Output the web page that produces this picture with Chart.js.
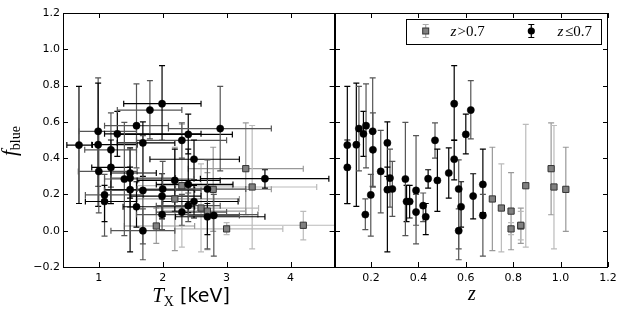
<!DOCTYPE html>
<html><head><meta charset="utf-8">
<script src="https://cdn.jsdelivr.net/npm/chart.js@4"></script>
<style>
html,body{margin:0;padding:0;background:#fff;}
#wrap{position:relative;width:630px;height:315px;background:#fff;}
canvas{position:absolute;top:0;}
</style></head><body>
<div id="wrap">
<canvas id="c1" width="340" height="315" style="left:0px"></canvas>
<canvas id="c2" width="330" height="315" style="left:300px"></canvas>
</div>
<script>
// ---- z <= 0.7 (black circles) ----
const lowT   = [0.69,0.99,0.99,1.19,1.29,1.59,1.69,1.80,1.99,2.30,2.40,2.90,2.49,1.00,1.19,1.09,1.09,1.40,1.49,1.49,1.49,1.69,1.59,1.69,1.99,1.99,2.19,2.30,2.40,2.40,2.49,2.70,2.70,2.80,3.60,2.00];
const lowTlo = [0.50,0.69,0.89,0.78,1.09,1.09,1.29,1.29,1.39,1.59,1.30,2.09,1.80,0.68,0.89,0.79,0.79,1.09,1.19,1.19,1.09,1.09,1.38,1.19,1.50,1.59,1.60,1.90,1.90,1.90,2.00,2.20,2.20,2.40,2.59,1.60];
const lowThi = [0.90,1.59,1.60,1.59,2.60,2.09,2.19,2.30,2.60,3.00,3.09,3.70,3.20,1.60,1.49,1.70,1.59,2.49,1.90,2.20,2.50,2.60,2.50,2.19,2.60,3.49,2.90,3.00,3.10,2.90,3.18,3.30,3.60,3.20,4.60,2.70];
const lowZ   = [0.100,0.207,0.138,0.208,0.168,0.179,0.269,0.621,0.551,0.470,0.600,0.149,0.551,0.241,0.100,0.199,0.350,0.345,0.528,0.280,0.269,0.390,0.580,0.570,0.631,0.176,0.480,0.390,0.672,0.420,0.363,0.570,0.431,0.672,0.441,0.290];
const lowF   = [0.472,0.548,0.474,0.446,0.534,0.579,0.484,0.665,0.700,0.498,0.531,0.563,0.394,0.327,0.349,0.197,0.161,0.285,0.318,0.290,0.226,0.222,0.132,0.000,0.191,0.089,0.277,0.103,0.255,0.138,0.161,0.230,0.077,0.084,0.287,0.230];
const lowFlo = [0.150,0.244,0.134,0.240,0.410,0.346,0.300,0.506,0.498,0.400,0.423,0.330,0.280,0.098,0.149,-0.030,0.050,-0.027,0.180,0.130,-0.117,-0.073,0.020,-0.160,0.065,0.006,0.107,0.030,0.100,0.050,0.070,-0.100,-0.022,-0.140,0.235,0.079];
const lowFhi = [0.796,0.842,0.814,0.649,0.658,0.809,0.600,0.827,0.910,0.594,0.643,0.796,0.500,0.553,0.500,0.310,0.250,0.597,0.457,0.450,0.350,0.524,0.270,0.120,0.314,0.175,0.450,0.200,0.450,0.208,0.250,0.390,0.150,0.200,0.336,0.382];
// ---- z > 0.7 (grey squares) ----
const highT   = [2.19,2.60,2.70,3.00,1.90,2.30,3.30,3.40,2.79,4.20];
const highTlo = [1.60,1.90,2.00,2.19,1.40,1.60,2.40,2.48,2.00,3.00];
const highThi = [3.20,3.50,3.30,3.88,2.50,3.09,4.20,4.41,3.70,5.20];
const highZ   = [0.712,0.750,0.791,0.791,0.832,0.853,0.960,0.972,1.022,0.832];
const highF   = [0.175,0.125,0.108,0.010,0.026,0.248,0.342,0.241,0.228,0.030];
const highFlo = [-0.110,-0.117,-0.105,-0.022,-0.070,-0.090,0.088,-0.100,-0.004,-0.050];
const highFhi = [0.460,0.368,0.320,0.045,0.125,0.586,0.594,0.580,0.460,0.107];
// ---- axes ----
const fTicks = [-0.2,0.0,0.2,0.4,0.6,0.8,1.0,1.2];
const tTicks = [1,2,3,4];
const zTicks = [0.2,0.4,0.6,0.8,1.0,1.2];
const fRange = [-0.2,1.2];
const tRange = [0.44,4.69];
const zRange = [0.048,1.2];

const TICKFONT = {family:'"DejaVu Sans"', size:11};
const lowErrCol  = ['#000','#555'];
const highErrCol = ['#999','#bbb'];

function mkPoints(xs, ys, ylo, yhi, xlo, xhi){
  return xs.map((v,i)=>({x:v, y:ys[i], ylo:ylo[i], yhi:yhi[i], xlo:xlo?xlo[i]:undefined, xhi:xhi?xhi[i]:undefined}));
}

const errPlugin = {
  id:'errbars',
  beforeDatasetsDraw(chart){
    const {ctx, chartArea:a} = chart;
    const xs = chart.scales.x, ys = chart.scales.y;
    ctx.save();
    ctx.beginPath(); ctx.rect(a.left, a.top, a.right-a.left, a.bottom-a.top); ctx.clip();
    ctx.lineWidth = 1.2;
    const order = [1,0];
    order.forEach(di=>{
      const ds = chart.data.datasets[di];
      ds.data.forEach((p,i)=>{
        ctx.strokeStyle = ds.errColors[i % ds.errColors.length];
        const px = xs.getPixelForValue(p.x), py = ys.getPixelForValue(p.y);
        const y1 = ys.getPixelForValue(p.ylo), y2 = ys.getPixelForValue(p.yhi);
        ctx.beginPath();
        ctx.moveTo(px, y1); ctx.lineTo(px, y2);
        ctx.moveTo(px-3, y1); ctx.lineTo(px+3, y1);
        ctx.moveTo(px-3, y2); ctx.lineTo(px+3, y2);
        if (p.xlo !== undefined){
          const x1 = xs.getPixelForValue(p.xlo), x2 = xs.getPixelForValue(p.xhi);
          ctx.moveTo(x1, py); ctx.lineTo(x2, py);
          ctx.moveTo(x1, py-3); ctx.lineTo(x1, py+3);
          ctx.moveTo(x2, py-3); ctx.lineTo(x2, py+3);
        }
        ctx.stroke();
      });
    });
    ctx.restore();
  }
};

function drawParts(ctx, parts, cx, cy){
  let w = 0;
  parts.forEach(p=>{ ctx.font = p.font; p.w = ctx.measureText(p.t).width; w += p.w; });
  let x = cx - w/2;
  parts.forEach(p=>{ ctx.font = p.font; ctx.fillText(p.t, x, cy + (p.dy||0)); x += p.w; });
}

const framePlugin = {
  id:'frame',
  afterDraw(chart, args, opts){
    const {ctx, chartArea:a} = chart;
    const xs = chart.scales.x, ys = chart.scales.y;
    ctx.save();
    ctx.strokeStyle = '#000'; ctx.lineWidth = 1;
    ctx.strokeRect(Math.round(a.left)+0.5, Math.round(a.top)+0.5, Math.round(a.right-a.left)-1, Math.round(a.bottom-a.top));
    ctx.beginPath();
    const L = 5;
    opts.xt.forEach(v=>{
      const px = Math.round(xs.getPixelForValue(v))+0.5;
      ctx.moveTo(px, a.bottom); ctx.lineTo(px, a.bottom-L);
      ctx.moveTo(px, a.top); ctx.lineTo(px, a.top+L);
    });
    fTicks.forEach(v=>{
      const py = Math.round(ys.getPixelForValue(v))+0.5;
      ctx.moveTo(a.left, py); ctx.lineTo(a.left+L, py);
      ctx.moveTo(a.right, py); ctx.lineTo(a.right-L, py);
    });
    ctx.stroke();
    ctx.fillStyle = '#000';
    ctx.textBaseline = 'alphabetic';
    if (opts.which === 'left'){
      drawParts(ctx, [
        {t:'T', font:'italic 21px "Liberation Serif"'},
        {t:'X', font:'14px "Liberation Serif"', dy:4},
        {t:' [keV]', font:'19px "DejaVu Sans"'}
      ], 191, 302);
      ctx.save();
      ctx.translate(16, 141);
      ctx.rotate(-Math.PI/2);
      drawParts(ctx, [
        {t:'f', font:'italic 21px "Liberation Serif"'},
        {t:'blue', font:'14px "Liberation Serif"', dy:4}
      ], 0, 0);
      ctx.restore();
    } else {
      drawParts(ctx, [{t:'z', font:'italic 20px "Liberation Serif"'}], 472-300, 300);
      // legend
      const ox = -300;
      ctx.lineWidth = 1;
      ctx.strokeStyle = '#000';
      ctx.strokeRect(406.5+ox, 19.5, 195, 25);
      // grey symbol
      let sx = 425.7+ox, sy = 31;
      ctx.strokeStyle = '#aaa'; ctx.lineWidth = 1.2;
      ctx.beginPath();
      ctx.moveTo(sx, 24.5); ctx.lineTo(sx, 37.5);
      ctx.moveTo(sx-3, 24.5); ctx.lineTo(sx+3, 24.5);
      ctx.moveTo(sx-3, 37.5); ctx.lineTo(sx+3, 37.5);
      ctx.stroke();
      ctx.fillStyle = '#808080'; ctx.strokeStyle = '#333'; ctx.lineWidth = 1;
      ctx.fillRect(sx-3, sy-3, 6, 6); ctx.strokeRect(sx-3, sy-3, 6, 6);
      // black symbol
      sx = 531.3+ox;
      ctx.strokeStyle = '#000'; ctx.lineWidth = 1.2;
      ctx.beginPath();
      ctx.moveTo(sx, 24.5); ctx.lineTo(sx, 37.5);
      ctx.moveTo(sx-3, 24.5); ctx.lineTo(sx+3, 24.5);
      ctx.moveTo(sx-3, 37.5); ctx.lineTo(sx+3, 37.5);
      ctx.stroke();
      ctx.fillStyle = '#000';
      ctx.beginPath(); ctx.arc(sx, sy, 3.6, 0, Math.PI*2); ctx.fill();
      ctx.textAlign = 'left';
      const lf = 'italic 15px "Liberation Serif"', rf = '15px "Liberation Serif"';
      ctx.font = lf; ctx.fillText('z', 450.5+ox, 36);
      ctx.font = rf; ctx.fillText('>0.7', 457.5+ox, 36);
      ctx.font = lf; ctx.fillText('z', 557.5+ox, 36);
      ctx.font = rf; ctx.fillText('\u22640.7', 565+ox, 36);
    }
    ctx.restore();
  }
};

function fmtF(v){ return v < 0 ? '\u2212' + Math.abs(v).toFixed(1) : v.toFixed(1); }

function makeChart(id, which, lowPts, highPts, xRange, xTicks, xFmt, padR, yWidth){
  return new Chart(document.getElementById(id), {
    type:'scatter',
    data:{datasets:[
      {label:'z<=0.7', data:lowPts, pointStyle:'circle', pointRadius:3.6, pointHoverRadius:3.6,
       backgroundColor:'#000', borderColor:'#000', borderWidth:0.5, errColors:lowErrCol},
      {label:'z>0.7', data:highPts, pointStyle:'rect', pointRadius:4.4, pointHoverRadius:4.4,
       backgroundColor:'#808080', borderColor:'#333', borderWidth:1, errColors:highErrCol}
    ]},
    options:{
      responsive:false, animation:false, devicePixelRatio:1,
      layout:{padding:{top:13, right:padR, left:0, bottom:0}},
      plugins:{legend:{display:false}, tooltip:{enabled:false}, frame:{which:which, xt:xTicks}},
      scales:{
        x:{type:'linear', min:xRange[0], max:xRange[1],
           afterBuildTicks:s=>{ s.ticks = xTicks.map(v=>({value:v})); },
           afterFit:s=>{ s.height = 48; },
           grid:{display:false, drawTicks:false}, border:{display:false},
           ticks:{font:TICKFONT, color:'#000', padding:5, maxRotation:0, autoSkip:false, callback:v=>xFmt(v)}},
        y:{type:'linear', min:fRange[0], max:fRange[1],
           afterBuildTicks:s=>{ s.ticks = fTicks.map(v=>({value:v})); },
           afterFit:s=>{ s.width = yWidth; },
           grid:{display:false, drawTicks:false}, border:{display:false},
           ticks:{display: which==='left', font:TICKFONT, color:'#000', padding:3, autoSkip:false, callback:v=>fmtF(v)}}
      }
    },
    plugins:[errPlugin, framePlugin]
  });
}

makeChart('c1','left',
  mkPoints(lowT, lowF, lowFlo, lowFhi, lowTlo, lowThi),
  mkPoints(highT, highF, highFlo, highFhi, highTlo, highThi),
  tRange, tTicks, v=>String(v), 5, 63);
makeChart('c2','right',
  mkPoints(lowZ, lowF, lowFlo, lowFhi),
  mkPoints(highZ, highF, highFlo, highFhi),
  zRange, zTicks, v=>v.toFixed(1), 22, 35);
</script>
</body></html>
